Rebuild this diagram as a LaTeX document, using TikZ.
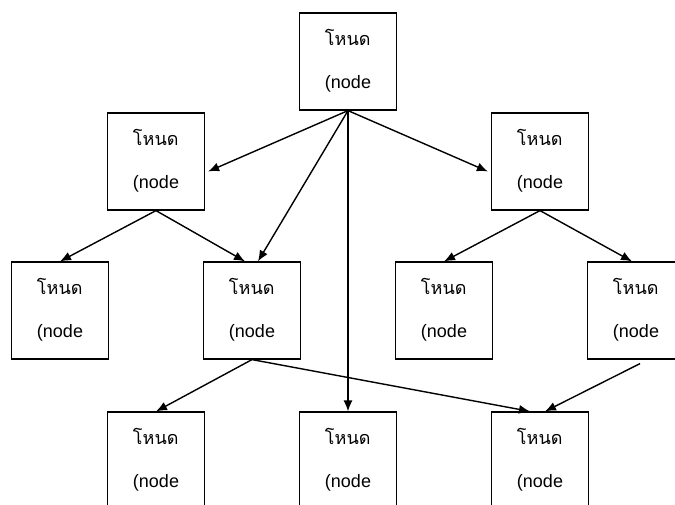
\documentclass[tikz,border=0pt]{standalone}
\usepackage{fontspec}
\setmainfont{Liberation Sans}
\newfontfamily\thaifont[Script=Thai]{Loma}
\usetikzlibrary{arrows.meta}

\newcommand{\nodetext}{{\thaifont โหนด}\\(node}

\begin{document}
\begin{tikzpicture}[x=1pt, y=-1pt, >={Latex[length=11pt,width=9pt]},
    block/.style={rectangle, draw, line width=1.2pt, minimum height=97pt, minimum width=97pt, inner sep=0pt, text depth=6pt, align=left, font=\fontsize{18}{43}\selectfont},
    arrow/.style={->, line width=1.4pt}]
    \useasboundingbox (0,0) rectangle (675,505);
    \clip (0,0) rectangle (675,505);
    \node[block] (root) at (348,61.5) {\nodetext};
    \node[block] (n2l) at (156,161.5) {\nodetext};
    \node[block, right of=n2l, node distance=384pt] (n2r) {\nodetext};
    \node[block] (n3a) at (60,310.5) {\nodetext};
    \node[block, right of=n3a, node distance=192pt] (n3c) {\nodetext};
    \node[block, right of=n3c, node distance=192pt] (n3e) {\nodetext};
    \node[block, right of=n3e, node distance=192pt] (n3g) {\nodetext};
    \node[block, below of=n2l, node distance=299pt] (n4b) {\nodetext};
    \node[block, right of=n4b, node distance=192pt] (n4d) {\nodetext};
    \node[block, right of=n4d, node distance=192pt] (n4f) {\nodetext};

    \draw[arrow] (root.south) -- ([xshift=3pt,yshift=-10pt]n2l.east);
    \draw[arrow] (root.south) -- ([xshift=-3pt,yshift=-10pt]n2r.west);
    \draw[arrow] (root.south) -- ([xshift=6pt]n3c.north);
    \draw[arrow] (root.south) -- (n4d.north);
    \draw[arrow] (n2l.south) -- (n3a.north);
    \draw[arrow] (n2l.south) -- ([xshift=-7pt]n3c.north);
    \draw[arrow] (n2r.south) -- (n3e.north);
    \draw[arrow] (n2r.south) -- ([xshift=-4pt]n3g.north);
    \draw[arrow] (n3c.south) -- (n4b.north);
    \draw[arrow] (n3c.south) -- ([xshift=-10pt]n4f.north);
    \draw[arrow] ([xshift=4pt,yshift=-4pt]n3g.south) -- ([xshift=5pt]n4f.north);
\end{tikzpicture}
\end{document}
